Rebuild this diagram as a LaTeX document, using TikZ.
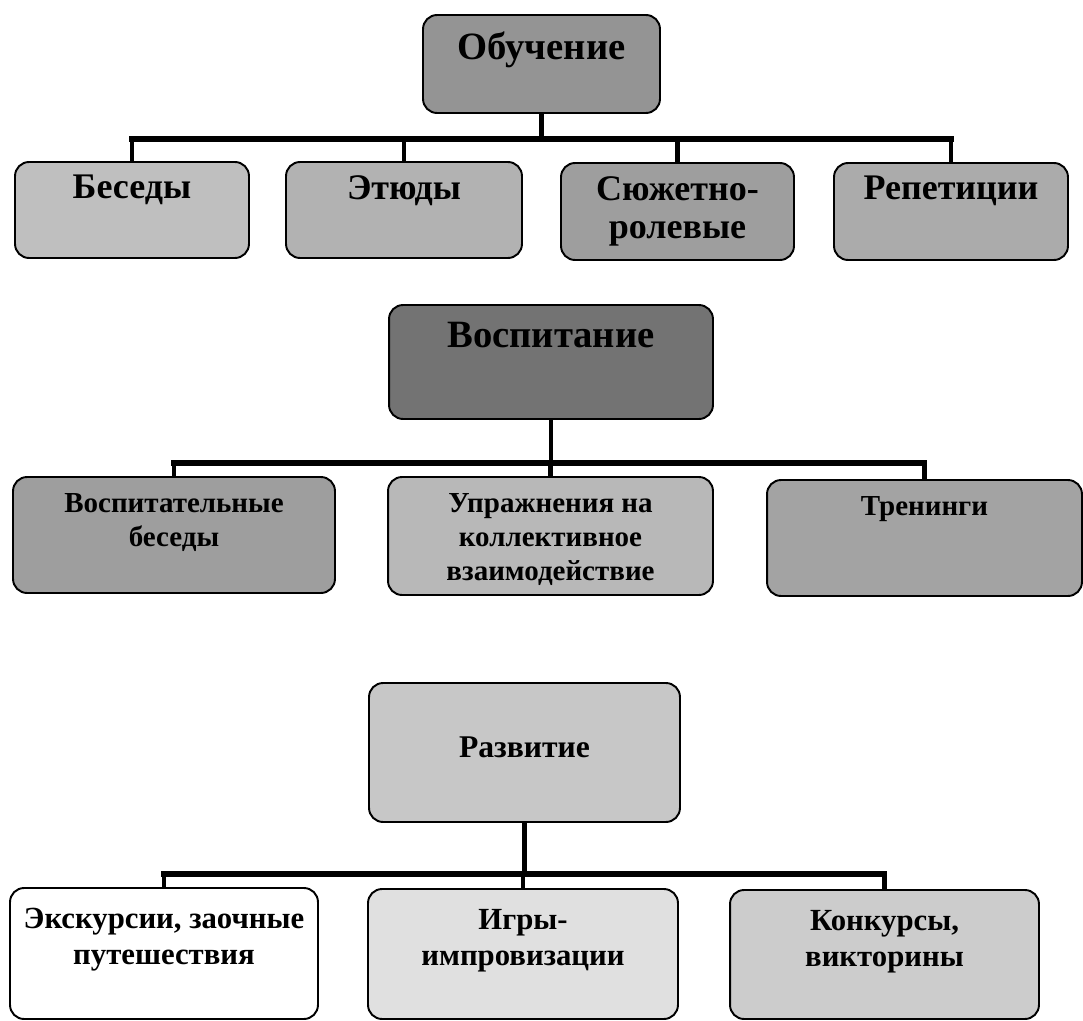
\documentclass[tikz,border=0pt]{standalone}
\usepackage{fontspec}
\setmainfont{Liberation Serif}
\usetikzlibrary{positioning}

\begin{document}
\begin{tikzpicture}[x=0.02cm, y=-0.02cm,
  box/.style={draw=black, line width=1.1pt, rounded corners=8pt, inner sep=0pt},
  conn/.style={line width=2.3pt},
  bar/.style={line width=3.2pt, line cap=rect},
  txt/.style={inner sep=0pt, align=center},
  head/.style={txt, font=\bfseries\fontsize{22}{24}\selectfont},
  rowA/.style={txt, font=\bfseries\fontsize{20.5}{21.6}\selectfont},
  rowB/.style={txt, font=\bfseries\fontsize{16.5}{19.3}\selectfont},
  rowC/.style={txt, font=\bfseries\fontsize{17.5}{20.5}\selectfont}]
\useasboundingbox (0,0) rectangle (1083,1021);

% Обучение
\node[box, fill=black!42, minimum width=4.74cm, minimum height=1.96cm] (ob) at (541.5,64) {};
\node[box, fill=black!25, minimum width=4.68cm, minimum height=1.92cm] (bes) at (132,210) {};
\node[box, fill=black!30, minimum width=4.72cm, minimum height=1.92cm] (etu) at (404,210) {};
\node[box, fill=black!38, minimum width=4.66cm, minimum height=1.94cm] (syu) at (677.5,211.5) {};
\node[box, fill=black!33, minimum width=4.68cm, minimum height=1.94cm] (rep) at (951,211.5) {};
\node[head, below=0.34cm of ob.north] (ob-t) {Обучение};
\node[rowA, below=0.28cm of bes.north] (bes-t) {Беседы};
\node[rowA, below=0.28cm of etu.north] (etu-t) {Этюды};
\node[rowA, below=0.28cm of syu.north] (syu-t) {Сюжетно-\\ролевые};
\node[rowA, below=0.28cm of rep.north] (rep-t) {Репетиции};
\coordinate (ob-j) at (541.5,139);
\draw[conn] (ob.south) -- (ob-j);
\draw[bar] (bes.north |- ob-j) -- (rep.north |- ob-j);
\foreach \n in {bes,etu,syu,rep}
  \draw[conn] (\n.north) -- (\n.north |- ob-j);

% Воспитание
\node[box, fill=black!55, minimum width=6.48cm, minimum height=2.28cm] (vos) at (551,362) {};
\node[box, fill=black!38, minimum width=6.44cm, minimum height=2.32cm] (vb) at (174,535) {};
\node[box, fill=black!28, minimum width=6.5cm, minimum height=2.36cm] (up) at (550.5,536) {};
\node[box, fill=black!36, minimum width=6.3cm, minimum height=2.32cm] (tr) at (924.5,538) {};
\node[head, below=0.36cm of vos.north] (vos-t) {Воспитание};
\node[rowB, below=0.35cm of vb.north] (vb-t) {Воспитательные\\беседы};
\node[rowB, below=0.35cm of up.north] (up-t) {Упражнения на\\коллективное\\взаимодействие};
\node[rowB, below=0.35cm of tr.north] (tr-t) {Тренинги};
\coordinate (vos-j) at (551,463);
\draw[conn] (vos.south) -- (vos-j);
\draw[bar] (vb.north |- vos-j) -- (tr.north |- vos-j);
\foreach \n in {vb,up,tr}
  \draw[conn] (\n.north) -- (\n.north |- vos-j);

% Развитие
\node[box, fill=black!22, minimum width=6.22cm, minimum height=2.78cm] (raz) at (524.5,752.5) {};
\node[box, fill=white, minimum width=6.16cm, minimum height=2.62cm] (exc) at (164,953.5) {};
\node[box, fill=black!12, minimum width=6.2cm, minimum height=2.6cm] (igr) at (523,954) {};
\node[box, fill=black!20, minimum width=6.18cm, minimum height=2.58cm] (kon) at (884.5,954.5) {};
\node[rowC, font=\bfseries\fontsize{18}{20}\selectfont] (raz-t) at ([yshift=0.1cm]raz.center) {Развитие};
\node[rowC, below=0.42cm of exc.north] (exc-t) {Экскурсии, заочные\\путешествия};
\node[rowC, below=0.42cm of igr.north] (igr-t) {Игры-\\импровизации};
\node[rowC, below=0.42cm of kon.north] (kon-t) {Конкурсы,\\викторины};
\coordinate (raz-j) at (524.5,874);
\draw[conn] (raz.south) -- (raz-j);
\draw[bar] (exc.north |- raz-j) -- (kon.north |- raz-j);
\foreach \n in {exc,igr,kon}
  \draw[conn] (\n.north) -- (\n.north |- raz-j);
\end{tikzpicture}
\end{document}
